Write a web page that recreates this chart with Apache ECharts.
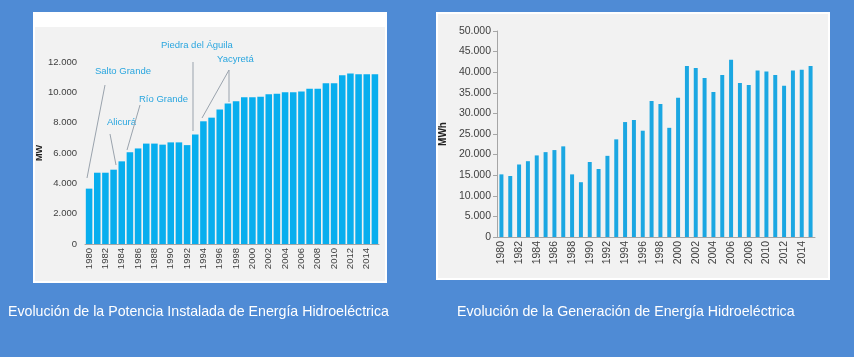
<!DOCTYPE html>
<html><head><meta charset="utf-8">
<script src="https://cdn.jsdelivr.net/npm/echarts@6/dist/echarts.min.js"></script>
<style>html,body{margin:0;padding:0;background:#4F8BD5}#c{width:854px;height:357px}</style>
</head><body><div id="c"></div>
<script>
const years = ['1980','1981','1982','1983','1984','1985','1986','1987','1988','1989','1990','1991','1992','1993','1994','1995','1996','1997','1998','1999','2000','2001','2002','2003','2004','2005','2006','2007','2008','2009','2010','2011','2012','2013','2014','2015'];
const potenciaMW = [3650,4700,4700,4900,5450,6050,6300,6620,6620,6550,6700,6700,6520,7220,8090,8330,8870,9270,9420,9670,9670,9710,9870,9910,10000,10000,10050,10230,10230,10600,10600,11130,11240,11200,11200,11200];
const generacionMWh = [15200,14800,17600,18400,19800,20600,21100,22000,15200,13300,18200,16500,19700,23700,27900,28400,25800,33000,32300,26500,33800,41500,41000,38600,35200,39300,43000,37400,36900,40400,40200,39300,36700,40400,40600,41500];
const captionLeft = 'Evolución de la Potencia Instalada de Energía Hidroeléctrica';
const captionRight = 'Evolución de la Generación de Energía Hidroeléctrica';
const annotations = ['Salto Grande','Alicurá','Río Grande','Piedra del Águila','Yacyretá'];

function fmt(v){ if(v===0) return '0'; const k=Math.floor(v/1000), r=v%1000; return k+'.'+String(r).padStart(3,'0'); }

const chart = echarts.init(document.getElementById('c'), null, {renderer:'canvas'});
const FONT = 'Liberation Sans';
const annColor = '#2AA6DF', leader = '#9AA3AD';
const annPos = [
  {x:95,y:71},{x:107,y:122},{x:139,y:99},{x:161,y:45},{x:217,y:59}
];
const leaders = [
  [105,85,87,178],[110,134,116,165],[140,105,127,150],[193,62,193,131],[229,70,202,118],[229,70,229,102]
];
const graphics = [
  {type:'rect', z:-10, shape:{x:33,y:12,width:354,height:271}, style:{fill:'#ffffff'}},
  {type:'rect', z:-9, shape:{x:35,y:27,width:350,height:254}, style:{fill:'#F2F2F2'}},
  {type:'rect', z:-10, shape:{x:436,y:12,width:394,height:268}, style:{fill:'#ffffff'}},
  {type:'rect', z:-9, shape:{x:438,y:14,width:390,height:264}, style:{fill:'#F2F2F2'}},
  {type:'text', x:8, y:305, style:{text:captionLeft, fill:'#ffffff', font:'14.2px '+FONT}},
  {type:'text', x:457, y:305, style:{text:captionRight, fill:'#ffffff', font:'14.2px '+FONT}}
];
annotations.forEach((t,i)=>graphics.push({type:'text', x:annPos[i].x, y:annPos[i].y-5, style:{text:t, fill:annColor, font:'9.5px '+FONT}}));
leaders.forEach(l=>graphics.push({type:'line', shape:{x1:l[0],y1:l[1],x2:l[2],y2:l[3]}, style:{stroke:leader, lineWidth:1}}));

chart.setOption({
  backgroundColor:'#4F8BD5',
  animation:false,
  textStyle:{fontFamily:FONT},
  grid:[
    {left:85, top:62, width:294, height:182},
    {left:497, top:31, width:318, height:206}
  ],
  xAxis:[
    {type:'category', gridIndex:0, data:years,
     axisLine:{lineStyle:{color:'#A6A6A6'}},
     axisTick:{interval:0, length:3, lineStyle:{color:'#A6A6A6'}},
     axisLabel:{interval:1, rotate:90, margin:4, fontSize:9.5, color:'#404040', fontFamily:FONT}},
    {type:'category', gridIndex:1, data:years,
     axisLine:{lineStyle:{color:'#A6A6A6'}},
     axisTick:{interval:0, length:3, lineStyle:{color:'#A6A6A6'}},
     axisLabel:{interval:1, rotate:90, margin:4, fontSize:10.5, color:'#404040', fontFamily:FONT}}
  ],
  yAxis:[
    {type:'value', gridIndex:0, min:0, max:12000, interval:2000,
     name:'MW', nameLocation:'middle', nameGap:40, nameRotate:90,
     nameTextStyle:{fontWeight:'bold', fontSize:9, color:'#222', fontFamily:FONT},
     axisLine:{show:false}, axisTick:{show:false}, splitLine:{show:false},
     axisLabel:{formatter:fmt, fontSize:9.5, color:'#404040', margin:8, fontFamily:FONT}},
    {type:'value', gridIndex:1, min:0, max:50000, interval:5000,
     name:'MWh', nameLocation:'middle', nameGap:49, nameRotate:90,
     nameTextStyle:{fontWeight:'bold', fontSize:10, color:'#222', fontFamily:FONT},
     axisLine:{show:true, lineStyle:{color:'#A6A6A6'}}, axisTick:{show:true, length:4, lineStyle:{color:'#A6A6A6'}}, splitLine:{show:false},
     axisLabel:{formatter:fmt, fontSize:10.5, color:'#404040', margin:6, fontFamily:FONT}}
  ],
  series:[
    {type:'bar', xAxisIndex:0, yAxisIndex:0, data:potenciaMW, barCategoryGap:'20%', itemStyle:{color:'#08AEEE'}},
    {type:'bar', xAxisIndex:1, yAxisIndex:1, data:generacionMWh, barCategoryGap:'55%', itemStyle:{color:'#1BA7E2'}}
  ],
  graphic:graphics
});
</script></body></html>
